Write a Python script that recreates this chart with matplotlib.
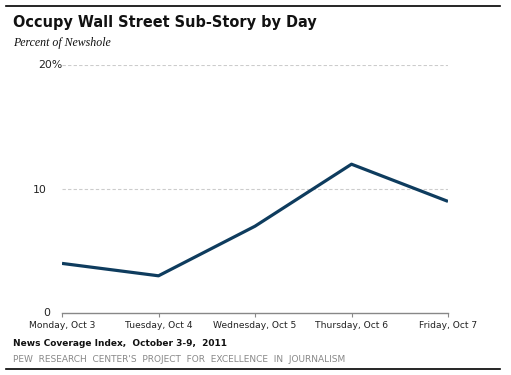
import matplotlib
matplotlib.use("Agg")
import matplotlib.pyplot as plt
from matplotlib.lines import Line2D

days = ["Monday, Oct 3", "Tuesday, Oct 4", "Wednesday, Oct 5", "Thursday, Oct 6", "Friday, Oct 7"]
values = [4, 3, 7, 12, 9]
yticks = [0, 10, 20]
ytick_labels = ["0", "10", "20"]

W, H = 511, 375
fig = plt.figure(figsize=(W / 100, H / 100), dpi=100)
ax = fig.add_axes([62 / W, (H - 313) / H, (448 - 62) / W, (313 - 65) / H])

x = list(range(len(days)))
ax.plot(x, values, color="#0e3c5e", lw=2.3, solid_capstyle="butt", zorder=3)
ax.set_xlim(0, len(days) - 1)
ax.set_ylim(0, 20)

for t in yticks[1:]:
    ax.axhline(t, color="#cccccc", lw=0.8, ls=(0, (3, 2)), zorder=1)

for s in ["top", "right", "left"]:
    ax.spines[s].set_visible(False)
ax.spines["bottom"].set_color("#888888")
ax.spines["bottom"].set_linewidth(1.0)

ax.set_xticks(x)
ax.set_xticklabels(days, fontsize=6.6, color="#222222")
ax.tick_params(axis="x", direction="out", length=3, color="#888888", pad=3)
ax.set_yticks(yticks)
ax.set_yticklabels(ytick_labels, fontsize=7.8, color="#222222")
ax.tick_params(axis="y", length=0, pad=11)
ax.get_yticklabels()[-1].set_visible(False)
fig.text(38 / W, (H - 65) / H, "20%", fontsize=7.8, color="#222222", ha="left", va="center")
ax.get_yticklabels()[0].set_visible(False)
fig.text(50 / W, (H - 313) / H, "0", fontsize=7.8, color="#222222", ha="right", va="center")

# rules
fig.add_artist(Line2D([6 / W, 500 / W], [(H - 6) / H] * 2, color="black", lw=1.2))
fig.add_artist(Line2D([6 / W, 500 / W], [(H - 369) / H] * 2, color="black", lw=1.2))

fig.text(13 / W, (H - 23) / H, "Occupy Wall Street Sub-Story by Day", fontsize=10.45, fontweight="bold",
         color="#111111", ha="left", va="center")
fig.text(13 / W, (H - 43) / H, "Percent of Newshole", fontsize=8.6, style="italic",
         family="Liberation Serif", color="#111111", ha="left", va="center")
fig.text(13 / W, (H - 343) / H, "News Coverage Index,  October 3-9,  2011", fontsize=6.5, fontweight="bold",
         color="#111111", ha="left", va="center")
fig.text(13 / W, (H - 359) / H, "PEW  RESEARCH  CENTER'S  PROJECT  FOR  EXCELLENCE  IN  JOURNALISM",
         fontsize=6.45, color="#888888", ha="left", va="center")

fig.savefig("out.png", dpi=100)
